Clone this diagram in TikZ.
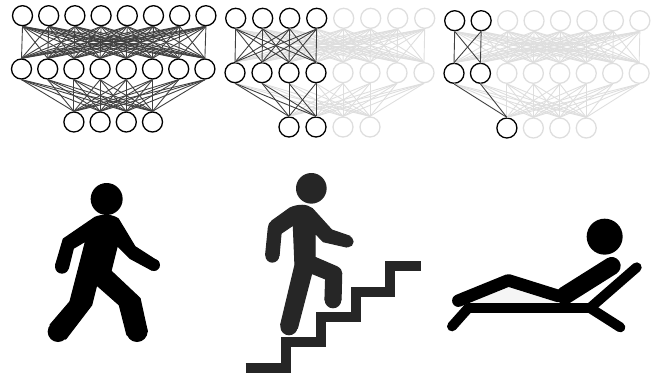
\documentclass[tikz,border=0pt]{standalone}
\tikzset{
  neuron/.style={circle,draw=#1,line width=1.3pt,minimum size=20pt,inner sep=0pt},
  edgeon/.style={draw=black!75,line width=0.9pt},
  edgeoff/.style={draw=black!13,line width=0.9pt},
  figscale/.style={x=0.33333pt,y=-0.33333pt},
  bolder/.style={line width=1.2pt,line join=round},
}
\definecolor{stair}{HTML}{262626}
% #1 prefix, #2 top y, #3 top x0, #4 mid y, #5 mid x0, #6 bottom y, #7 pitch, #8 active top/mid, #9 active bottom
\newcommand{\netdraw}[9]{%
  \foreach \i in {1,...,8}{
    \pgfmathsetmacro{\tx}{#3+(\i-1)*#7}
    \pgfmathsetmacro{\mx}{#5+(\i-1)*#7}
    \pgfmathsetmacro{\ton}{\i<=#8 ? "black" : "black!13"}
    \node[neuron=\ton] (#1t\i) at (\tx,#2) {};
    \node[neuron=\ton] (#1m\i) at (\mx,#4) {};
  }
  \foreach \i in {1,...,4}{
    \pgfmathsetmacro{\bx}{#5+(\i+1)*#7}
    \pgfmathsetmacro{\bon}{\i<=#9 ? "black" : "black!13"}
    \node[neuron=\bon] (#1b\i) at (\bx,#6) {};
  }
  \foreach \i in {1,...,8}{\foreach \j in {1,...,8}{
    \pgfmathparse{(\i<=#8 && \j<=#8) ? 0 : 1}
    \ifnum\pgfmathresult=1 \draw[edgeoff] (#1t\i.south) -- (#1m\j.north);\fi
  }
  \foreach \j in {1,...,4}{
    \pgfmathparse{(\i<=#8 && \j<=#9) ? 0 : 1}
    \ifnum\pgfmathresult=1 \draw[edgeoff] (#1m\i.south) -- (#1b\j.north);\fi
  }}
  \foreach \i in {1,...,#8}{\foreach \j in {1,...,#8}{
    \draw[edgeon] (#1t\i.south) -- (#1m\j.north);
  }
  \foreach \j in {1,...,#9}{
    \draw[edgeon] (#1m\i.south) -- (#1b\j.north);
  }}
}
\begin{document}
\begin{tikzpicture}[x=1pt,y=-1pt]
\useasboundingbox (0,0) rectangle (653,373);
\netdraw{a}{15.7}{22.5}{69}{21.5}{122}{26.2}{8}{4}
\netdraw{b}{18.3}{235.7}{72.7}{235}{127}{27}{4}{2}
\netdraw{c}{20.7}{454.7}{73.3}{454}{128}{26.45}{2}{1}

% walker
\begin{scope}[figscale,xshift=30pt,yshift=-170pt]
\fill[black] (230,87) circle[radius=48];
\fill[black] (84,485) circle[radius=31] (321,484) circle[radius=32] (96,290) circle[radius=21] (372,285) circle[radius=18];
\filldraw[black,bolder] (195,142) .. controls (220,132) and (250,135) .. (265,147) -- (315,230) -- (385,275) -- (365,300) -- (300,265) -- (262,227) -- (243,303) -- (330,385) -- (352,485)
  -- (291,495) -- (268,405) -- (200,345) -- (185,405) -- (107,507) -- (60,465) -- (120,395) -- (167,213) -- (130,235) -- (115,295) -- (77,285) -- (100,207) -- cycle;
\end{scope}

% climber
\begin{scope}[figscale,xshift=235pt,yshift=-165pt]
\fill[stair] (229,70) circle[radius=46];
\fill[stair] (162,485) circle[radius=26] (294,405) circle[radius=25] (112,272) circle[radius=21] (339,230) circle[radius=17];
\filldraw[stair,bolder] (165,129) .. controls (190,118) and (215,118) .. (232,131) -- (290,195) -- (345,214) -- (335,246) -- (265,230) -- (240,204) -- (240,277) -- (305,305)
  .. controls (315,310) and (320,317) .. (320,325) -- (318,405) -- (270,405) -- (272,342) -- (230,325) -- (187,490) -- (137,480) -- (180,300) -- (175,180) -- (138,205) -- (132,272) -- (92,270) -- (100,190)
  .. controls (100,180) and (105,172) .. (112,167) -- cycle;
\draw[stair,line width=10pt,line join=miter] (32,608) -- (152,608) -- (152,532) -- (258,532) -- (258,455) -- (363,455) -- (363,380) -- (465,380) -- (465,303) -- (558,303);
\end{scope}

% lounger
\begin{scope}[figscale,xshift=440pt,yshift=-210pt]
\fill[black!4] (90,280) -- (205,232) -- (360,280) -- cycle;
\fill[black] (494,80) circle[radius=54];
\draw[black,line width=12.5pt,line cap=round,line join=round] (55,272) -- (205,211) -- (355,258);
\draw[black,line width=18pt,line cap=round] (375,256) -- (515,168);
\draw[black,line width=10.5pt,line cap=butt] (85,294) -- (450,294);
\draw[black,line width=10pt,line cap=round] (36,349) -- (85,294);
\draw[black,line width=10pt,line cap=round] (450,294) -- (590,172);
\draw[black,line width=10pt,line cap=round] (450,294) -- (541,352);
\end{scope}
\end{tikzpicture}
\end{document}
